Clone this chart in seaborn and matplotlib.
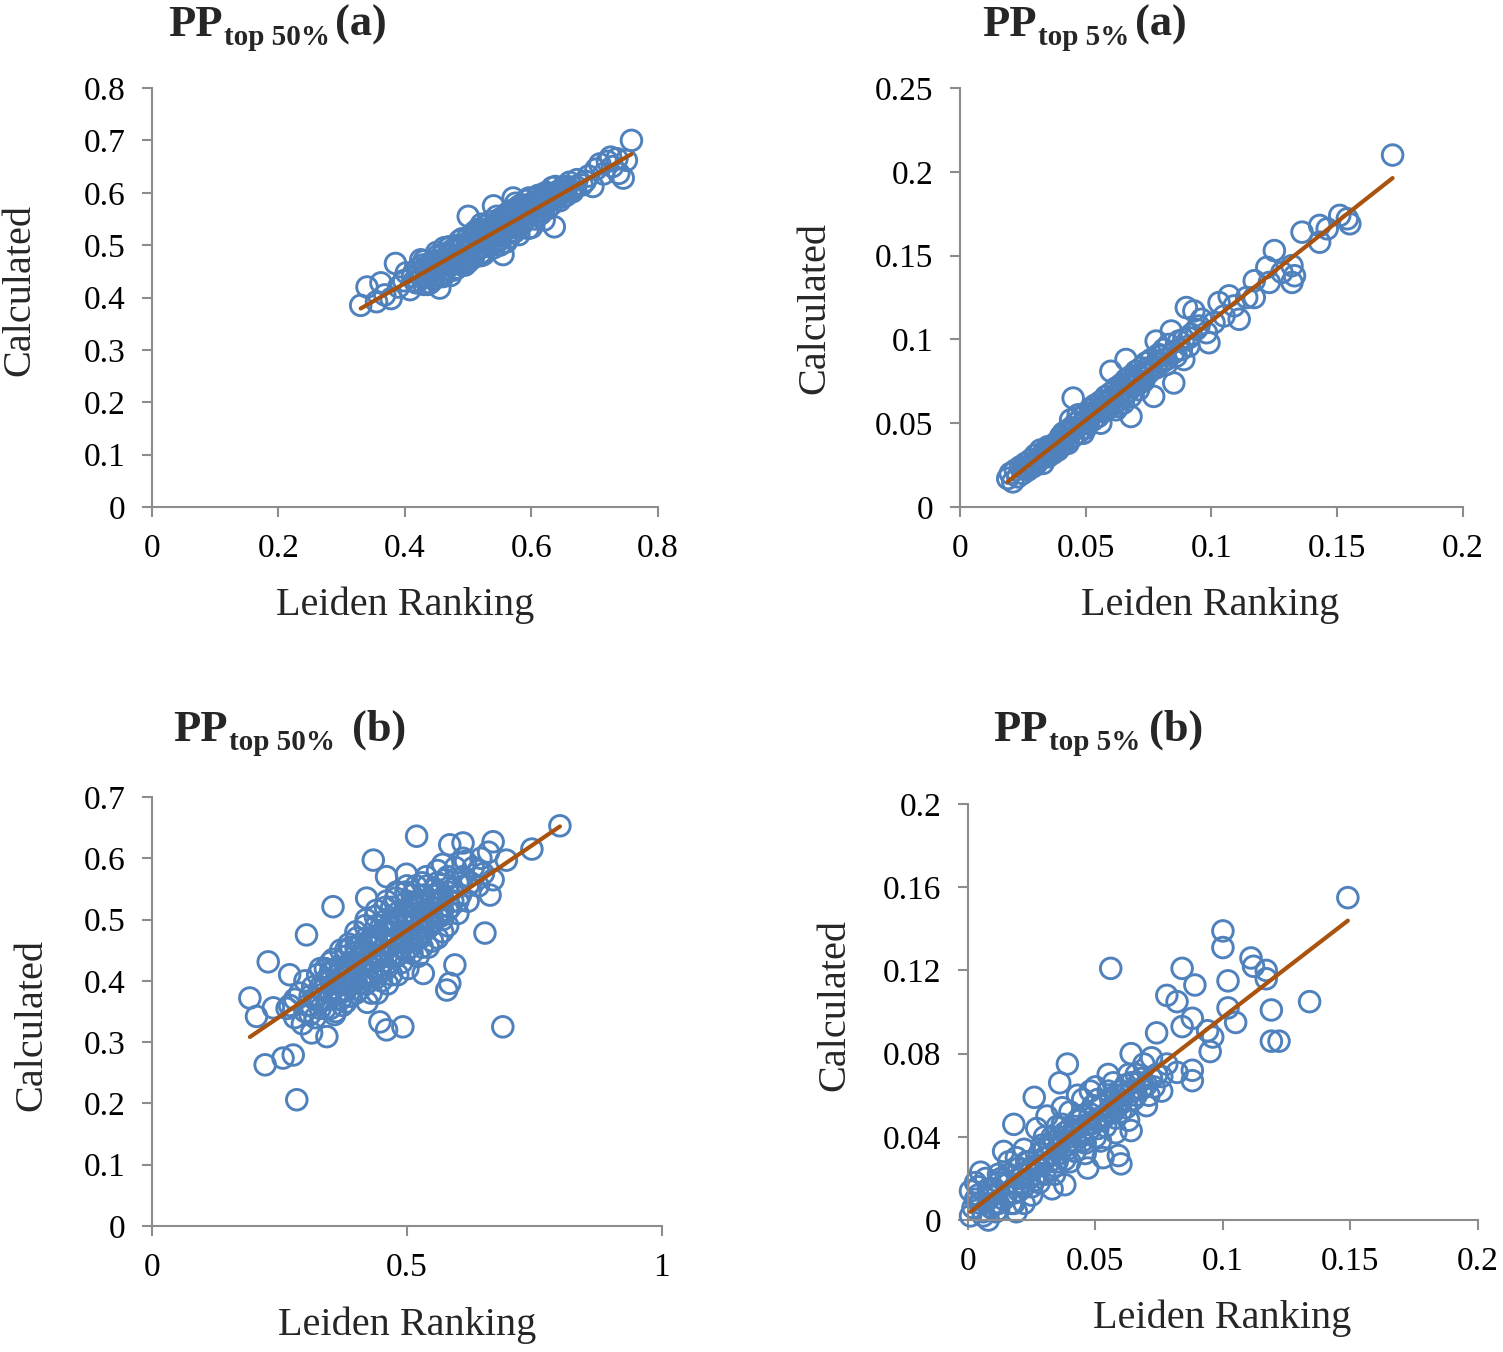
import matplotlib
matplotlib.use("Agg")
import matplotlib.pyplot as plt
import seaborn as sns
from matplotlib.ticker import FuncFormatter

# PP top 50% (a)
a50_x = [0.330, 0.340, 0.355, 0.362, 0.368, 0.378, 0.385, 0.390, 0.398, 0.402,
         0.408, 0.412, 0.418, 0.420, 0.425, 0.428, 0.432, 0.436, 0.440, 0.442,
         0.446, 0.450, 0.452, 0.455, 0.457, 0.460, 0.462, 0.466, 0.470, 0.472,
         0.476, 0.480, 0.482, 0.486, 0.489, 0.492, 0.495, 0.498, 0.500, 0.504,
         0.508, 0.510, 0.514, 0.518, 0.521, 0.524, 0.528, 0.531, 0.535, 0.538,
         0.540, 0.544, 0.548, 0.551, 0.555, 0.558, 0.561, 0.565, 0.568, 0.571,
         0.574, 0.578, 0.581, 0.585, 0.588, 0.591, 0.595, 0.598, 0.601, 0.605,
         0.608, 0.611, 0.615, 0.619, 0.622, 0.626, 0.630, 0.633, 0.636, 0.640,
         0.645, 0.650, 0.655, 0.660, 0.665, 0.672, 0.680, 0.690, 0.697, 0.702,
         0.708, 0.714, 0.720, 0.728, 0.735, 0.738, 0.745, 0.750, 0.758, 0.725,
         0.445, 0.465, 0.485, 0.505, 0.525, 0.545, 0.565, 0.585, 0.605, 0.625,
         0.455, 0.475, 0.495, 0.515, 0.535, 0.555, 0.575, 0.595, 0.615, 0.635,
         0.430, 0.470, 0.500, 0.520, 0.550, 0.570, 0.590, 0.610, 0.650, 0.670,
         0.415, 0.438, 0.478, 0.512, 0.532, 0.562, 0.582, 0.620, 0.645, 0.685,
         0.422, 0.428, 0.434, 0.440, 0.448, 0.454, 0.460, 0.468, 0.474, 0.480,
         0.488, 0.494, 0.500, 0.506, 0.512, 0.518, 0.524, 0.530, 0.536, 0.542,
         0.548, 0.554, 0.560, 0.566, 0.572, 0.578, 0.584, 0.590, 0.596, 0.602,
         0.608, 0.614, 0.620, 0.626, 0.632, 0.638, 0.644, 0.650, 0.656, 0.662,
         0.485, 0.515, 0.545, 0.575, 0.490, 0.520, 0.550, 0.580, 0.470, 0.540,
         0.430, 0.450, 0.470, 0.490, 0.510, 0.530, 0.550, 0.570, 0.590, 0.610,
         0.440, 0.460, 0.480, 0.500, 0.520, 0.540, 0.560, 0.580, 0.600, 0.620]
a50_y = [0.385, 0.420, 0.392, 0.428, 0.405, 0.398, 0.465, 0.420, 0.432, 0.447,
         0.415, 0.440, 0.428, 0.455, 0.472, 0.440, 0.458, 0.425, 0.448, 0.468,
         0.435, 0.458, 0.480, 0.418, 0.444, 0.470, 0.495, 0.455, 0.480, 0.442,
         0.465, 0.490, 0.456, 0.508, 0.475, 0.500, 0.462, 0.486, 0.555, 0.510,
         0.476, 0.525, 0.495, 0.510, 0.540, 0.482, 0.520, 0.500, 0.545, 0.530,
         0.575, 0.505, 0.526, 0.545, 0.482, 0.535, 0.560, 0.515, 0.548, 0.590,
         0.526, 0.560, 0.575, 0.540, 0.556, 0.585, 0.532, 0.566, 0.580, 0.550,
         0.575, 0.595, 0.560, 0.585, 0.600, 0.570, 0.590, 0.610, 0.535, 0.600,
         0.585, 0.610, 0.595, 0.620, 0.602, 0.625, 0.615, 0.632, 0.612, 0.645,
         0.655, 0.636, 0.660, 0.650, 0.665, 0.637, 0.628, 0.662, 0.700, 0.668,
         0.452, 0.468, 0.482, 0.492, 0.505, 0.518, 0.532, 0.555, 0.565, 0.582,
         0.468, 0.452, 0.478, 0.512, 0.515, 0.548, 0.542, 0.572, 0.578, 0.598,
         0.425, 0.495, 0.500, 0.495, 0.510, 0.560, 0.548, 0.560, 0.592, 0.612,
         0.432, 0.462, 0.475, 0.488, 0.532, 0.522, 0.548, 0.572, 0.605, 0.622,
         0.445, 0.462, 0.438, 0.455, 0.470, 0.440, 0.482, 0.462, 0.490, 0.472,
         0.492, 0.470, 0.515, 0.498, 0.520, 0.495, 0.525, 0.512, 0.500, 0.540,
         0.540, 0.525, 0.548, 0.565, 0.540, 0.572, 0.562, 0.568, 0.590, 0.572,
         0.562, 0.588, 0.592, 0.600, 0.578, 0.612, 0.595, 0.602, 0.612, 0.605,
         0.500, 0.530, 0.555, 0.580, 0.462, 0.485, 0.500, 0.535, 0.470, 0.520,
         0.470, 0.486, 0.497, 0.512, 0.522, 0.538, 0.550, 0.566, 0.576, 0.592,
         0.428, 0.440, 0.455, 0.468, 0.480, 0.495, 0.506, 0.520, 0.534, 0.548]

# PP top 5% (a)
a5_x = [0.019, 0.020, 0.021, 0.022, 0.023, 0.024, 0.025, 0.026, 0.027, 0.028,
        0.029, 0.030, 0.031, 0.032, 0.033, 0.034, 0.035, 0.036, 0.037, 0.038,
        0.039, 0.040, 0.041, 0.042, 0.043, 0.044, 0.045, 0.045, 0.046, 0.047,
        0.048, 0.049, 0.050, 0.051, 0.052, 0.053, 0.054, 0.055, 0.056, 0.057,
        0.058, 0.059, 0.060, 0.060, 0.061, 0.062, 0.063, 0.064, 0.065, 0.066,
        0.066, 0.067, 0.068, 0.068, 0.069, 0.070, 0.071, 0.072, 0.073, 0.074,
        0.075, 0.076, 0.077, 0.078, 0.078, 0.079, 0.080, 0.081, 0.082, 0.083,
        0.084, 0.085, 0.085, 0.087, 0.089, 0.090, 0.091, 0.093, 0.094, 0.096,
        0.098, 0.099, 0.101, 0.103, 0.105, 0.107, 0.109, 0.111, 0.114, 0.117,
        0.117, 0.122, 0.123, 0.125, 0.128, 0.132, 0.133, 0.132, 0.136, 0.143,
        0.143, 0.146, 0.151, 0.154, 0.155, 0.172, 0.030, 0.035, 0.040, 0.045,
        0.050, 0.055, 0.060, 0.065, 0.070, 0.075, 0.080, 0.026, 0.033, 0.038,
        0.043, 0.048, 0.053, 0.058, 0.063, 0.068, 0.073, 0.088, 0.092, 0.095,
        0.025, 0.028, 0.031, 0.034, 0.037, 0.040, 0.043, 0.046, 0.049, 0.052,
        0.055, 0.058, 0.061, 0.064, 0.067, 0.070, 0.073, 0.076, 0.079, 0.082,
        0.044, 0.047, 0.050, 0.053, 0.056, 0.059, 0.062, 0.065, 0.068, 0.071,
        0.032, 0.036, 0.041, 0.049, 0.057, 0.063, 0.069, 0.086, 0.089, 0.091]
a5_y = [0.017, 0.020, 0.015, 0.022, 0.018, 0.024, 0.020, 0.026, 0.022, 0.028,
        0.024, 0.031, 0.027, 0.030, 0.026, 0.034, 0.030, 0.036, 0.032, 0.038,
        0.034, 0.042, 0.037, 0.045, 0.040, 0.047, 0.042, 0.065, 0.050, 0.044,
        0.053, 0.047, 0.056, 0.050, 0.058, 0.052, 0.061, 0.054, 0.063, 0.057,
        0.066, 0.059, 0.081, 0.068, 0.061, 0.071, 0.064, 0.073, 0.066, 0.076,
        0.088, 0.069, 0.054, 0.078, 0.072, 0.081, 0.074, 0.083, 0.077, 0.086,
        0.080, 0.088, 0.066, 0.083, 0.099, 0.091, 0.086, 0.094, 0.088, 0.097,
        0.105, 0.074, 0.092, 0.099, 0.088, 0.119, 0.101, 0.117, 0.106, 0.112,
        0.104, 0.098, 0.110, 0.122, 0.114, 0.126, 0.120, 0.112, 0.125, 0.125,
        0.135, 0.143, 0.134, 0.153, 0.140, 0.144, 0.138, 0.134, 0.164, 0.158,
        0.168, 0.166, 0.174, 0.172, 0.169, 0.210, 0.025, 0.036, 0.038, 0.046,
        0.052, 0.059, 0.063, 0.070, 0.075, 0.083, 0.090, 0.023, 0.032, 0.035,
        0.044, 0.049, 0.056, 0.062, 0.068, 0.072, 0.080, 0.094, 0.103, 0.108,
        0.023, 0.025, 0.029, 0.031, 0.036, 0.039, 0.038, 0.047, 0.050, 0.054,
        0.057, 0.058, 0.066, 0.068, 0.073, 0.076, 0.075, 0.082, 0.087, 0.085,
        0.052, 0.055, 0.047, 0.060, 0.050, 0.064, 0.058, 0.062, 0.066, 0.070,
        0.034, 0.033, 0.044, 0.044, 0.060, 0.060, 0.077, 0.090, 0.100, 0.096]

# PP top 50% (b)
b50_x = [0.192, 0.205, 0.222, 0.228, 0.238, 0.257, 0.270, 0.277, 0.284, 0.303,
         0.313, 0.343, 0.355, 0.421, 0.434, 0.447, 0.460, 0.460, 0.492, 0.499,
         0.519, 0.532, 0.578, 0.584, 0.584, 0.594, 0.610, 0.653, 0.663, 0.669,
         0.669, 0.688, 0.695, 0.745, 0.800, 0.265, 0.280, 0.290, 0.295, 0.300,
         0.305, 0.310, 0.315, 0.320, 0.325, 0.330, 0.335, 0.340, 0.345, 0.350,
         0.355, 0.358, 0.362, 0.366, 0.370, 0.374, 0.378, 0.382, 0.386, 0.390,
         0.394, 0.398, 0.402, 0.406, 0.410, 0.414, 0.418, 0.422, 0.426, 0.430,
         0.434, 0.438, 0.442, 0.446, 0.450, 0.454, 0.458, 0.462, 0.466, 0.470,
         0.474, 0.478, 0.482, 0.486, 0.490, 0.494, 0.498, 0.502, 0.506, 0.510,
         0.514, 0.518, 0.522, 0.526, 0.530, 0.534, 0.538, 0.542, 0.546, 0.550,
         0.555, 0.560, 0.565, 0.570, 0.575, 0.580, 0.585, 0.590, 0.595, 0.600,
         0.605, 0.610, 0.615, 0.620, 0.625, 0.630, 0.640, 0.645, 0.650, 0.660,
         0.320, 0.340, 0.360, 0.380, 0.400, 0.420, 0.440, 0.460, 0.480, 0.500,
         0.520, 0.540, 0.560, 0.580, 0.400, 0.420, 0.440, 0.460, 0.480, 0.500,
         0.370, 0.390, 0.410, 0.430, 0.450, 0.470, 0.490, 0.510, 0.530, 0.550,
         0.350, 0.380, 0.430, 0.450, 0.470, 0.490, 0.510, 0.530, 0.560, 0.600,
         0.330, 0.350, 0.370, 0.390, 0.410, 0.430, 0.450, 0.470, 0.490, 0.510,
         0.530, 0.550, 0.570, 0.590, 0.360, 0.380, 0.400, 0.420, 0.440, 0.460,
         0.480, 0.500, 0.520, 0.540, 0.560, 0.580, 0.340, 0.360, 0.380, 0.400,
         0.420, 0.440, 0.460, 0.480, 0.500, 0.520, 0.540, 0.560, 0.580, 0.620,
         0.310, 0.330, 0.350, 0.390, 0.410, 0.430, 0.450, 0.470, 0.490, 0.510,
         0.530, 0.550, 0.570, 0.600, 0.640, 0.570, 0.610, 0.300, 0.280, 0.270,
         0.360, 0.380, 0.400, 0.420, 0.440, 0.460, 0.480, 0.500, 0.520, 0.540,
         0.370, 0.390, 0.410, 0.430, 0.450, 0.470, 0.490, 0.510, 0.530, 0.550,
         0.330, 0.350, 0.440, 0.460, 0.480, 0.500, 0.520, 0.540, 0.560, 0.570]
b50_y = [0.372, 0.342, 0.263, 0.431, 0.356, 0.274, 0.410, 0.279, 0.206, 0.475,
         0.315, 0.309, 0.521, 0.535, 0.597, 0.333, 0.320, 0.570, 0.325, 0.574,
         0.636, 0.412, 0.385, 0.396, 0.622, 0.426, 0.625, 0.478, 0.540, 0.627,
         0.565, 0.325, 0.597, 0.615, 0.653, 0.355, 0.340, 0.380, 0.330, 0.400,
         0.360, 0.345, 0.390, 0.370, 0.410, 0.355, 0.385, 0.420, 0.370, 0.400,
         0.435, 0.345, 0.380, 0.410, 0.450, 0.360, 0.395, 0.425, 0.460, 0.375,
         0.405, 0.440, 0.470, 0.385, 0.420, 0.450, 0.490, 0.365, 0.400, 0.435,
         0.465, 0.505, 0.380, 0.415, 0.450, 0.480, 0.520, 0.395, 0.430, 0.460,
         0.495, 0.535, 0.410, 0.445, 0.475, 0.510, 0.545, 0.420, 0.455, 0.490,
         0.520, 0.555, 0.440, 0.470, 0.505, 0.540, 0.570, 0.455, 0.490, 0.520,
         0.550, 0.470, 0.505, 0.535, 0.565, 0.490, 0.520, 0.550, 0.585, 0.510,
         0.540, 0.570, 0.595, 0.530, 0.560, 0.585, 0.555, 0.600, 0.575, 0.610,
         0.340, 0.355, 0.395, 0.440, 0.410, 0.430, 0.440, 0.460, 0.470, 0.480,
         0.500, 0.515, 0.530, 0.545, 0.455, 0.470, 0.490, 0.500, 0.510, 0.530,
         0.420, 0.430, 0.395, 0.410, 0.425, 0.440, 0.455, 0.465, 0.480, 0.495,
         0.380, 0.410, 0.455, 0.470, 0.520, 0.495, 0.510, 0.525, 0.560, 0.560,
         0.390, 0.415, 0.370, 0.455, 0.440, 0.380, 0.490, 0.480, 0.430, 0.445,
         0.455, 0.465, 0.500, 0.530, 0.350, 0.365, 0.380, 0.395, 0.405, 0.420,
         0.440, 0.450, 0.470, 0.485, 0.505, 0.515, 0.400, 0.420, 0.450, 0.480,
         0.500, 0.515, 0.530, 0.545, 0.555, 0.530, 0.555, 0.580, 0.570, 0.555,
         0.375, 0.365, 0.355, 0.395, 0.460, 0.470, 0.400, 0.410, 0.500, 0.540,
         0.560, 0.530, 0.480, 0.530, 0.580, 0.590, 0.600, 0.350, 0.370, 0.360,
         0.400, 0.385, 0.430, 0.410, 0.465, 0.440, 0.495, 0.465, 0.520, 0.500,
         0.380, 0.415, 0.405, 0.445, 0.440, 0.490, 0.470, 0.525, 0.495, 0.540,
         0.420, 0.430, 0.470, 0.480, 0.490, 0.510, 0.485, 0.505, 0.540, 0.515]

# PP top 5% (b)
b5_x = [0.149, 0.100, 0.100, 0.056, 0.084, 0.089, 0.102, 0.111, 0.112, 0.117,
        0.117, 0.134, 0.119, 0.119, 0.122, 0.102, 0.105, 0.078, 0.082, 0.088,
        0.084, 0.074, 0.094, 0.096, 0.095, 0.088, 0.088, 0.039, 0.026, 0.018,
        0.036, 0.064, 0.060, 0.059, 0.038, 0.022, 0.001, 0.001, 0.005, 0.014,
        0.064, 0.069, 0.076, 0.078, 0.082, 0.072, 0.066, 0.062, 0.058, 0.055,
        0.002, 0.004, 0.006, 0.008, 0.010, 0.012, 0.014, 0.016, 0.018, 0.020,
        0.022, 0.024, 0.026, 0.028, 0.030, 0.032, 0.034, 0.036, 0.038, 0.040,
        0.042, 0.044, 0.046, 0.048, 0.050, 0.052, 0.054, 0.056, 0.058, 0.060,
        0.062, 0.064, 0.066, 0.068, 0.070, 0.072, 0.074, 0.010, 0.015, 0.020,
        0.025, 0.030, 0.035, 0.040, 0.045, 0.050, 0.055, 0.060, 0.005, 0.012,
        0.018, 0.025, 0.030, 0.035, 0.040, 0.045, 0.050, 0.028, 0.034, 0.040,
        0.046, 0.052, 0.058, 0.016, 0.022, 0.027, 0.031, 0.037, 0.043, 0.048,
        0.008, 0.003, 0.007, 0.019, 0.033, 0.047, 0.053, 0.063, 0.070, 0.076,
        0.003, 0.006, 0.009, 0.011, 0.013, 0.017, 0.019, 0.021, 0.023, 0.025,
        0.027, 0.029, 0.031, 0.033, 0.035, 0.037, 0.039, 0.041, 0.043, 0.045,
        0.047, 0.049, 0.051, 0.053, 0.055, 0.057, 0.059, 0.061, 0.065, 0.067,
        0.009, 0.015, 0.021, 0.027, 0.033, 0.039, 0.045, 0.051, 0.057, 0.063,
        0.012, 0.024, 0.036, 0.042, 0.048, 0.054, 0.060, 0.068, 0.071, 0.073,
        0.004, 0.008, 0.012, 0.016, 0.020, 0.024, 0.028, 0.032, 0.036, 0.040,
        0.044, 0.048, 0.052, 0.056, 0.060, 0.064, 0.030, 0.034, 0.038, 0.042]
b5_y = [0.155, 0.139, 0.131, 0.121, 0.121, 0.113, 0.115, 0.126, 0.122, 0.120,
        0.116, 0.105, 0.101, 0.086, 0.086, 0.102, 0.095, 0.108, 0.105, 0.097,
        0.093, 0.090, 0.091, 0.088, 0.081, 0.072, 0.067, 0.075, 0.059, 0.046,
        0.066, 0.043, 0.027, 0.031, 0.017, 0.008, 0.002, 0.014, 0.023, 0.033,
        0.080, 0.075, 0.069, 0.075, 0.071, 0.078, 0.070, 0.065, 0.060, 0.070,
        0.006, 0.012, 0.004, 0.015, 0.008, 0.018, 0.010, 0.022, 0.013, 0.025,
        0.016, 0.028, 0.019, 0.032, 0.022, 0.036, 0.026, 0.040, 0.029, 0.044,
        0.033, 0.048, 0.037, 0.051, 0.040, 0.055, 0.045, 0.058, 0.049, 0.062,
        0.054, 0.066, 0.060, 0.063, 0.065, 0.068, 0.070, 0.015, 0.017, 0.020,
        0.024, 0.030, 0.034, 0.038, 0.043, 0.048, 0.052, 0.056, 0.008, 0.005,
        0.008, 0.012, 0.040, 0.045, 0.052, 0.058, 0.064, 0.018, 0.022, 0.028,
        0.032, 0.038, 0.042, 0.028, 0.034, 0.044, 0.050, 0.054, 0.060, 0.062,
        0.000, 0.018, 0.020, 0.004, 0.015, 0.025, 0.030, 0.048, 0.055, 0.062,
        0.010, 0.002, 0.012, 0.004, 0.020, 0.008, 0.030, 0.018, 0.028, 0.016,
        0.026, 0.036, 0.030, 0.040, 0.028, 0.046, 0.036, 0.042, 0.048, 0.038,
        0.046, 0.055, 0.044, 0.050, 0.062, 0.052, 0.057, 0.060, 0.058, 0.066,
        0.006, 0.012, 0.022, 0.022, 0.032, 0.034, 0.050, 0.058, 0.066, 0.070,
        0.022, 0.020, 0.032, 0.038, 0.044, 0.050, 0.052, 0.068, 0.060, 0.064,
        0.016, 0.010, 0.008, 0.018, 0.014, 0.024, 0.026, 0.028, 0.036, 0.040,
        0.040, 0.046, 0.048, 0.054, 0.060, 0.062, 0.034, 0.038, 0.042, 0.045]

BLUE = "#4F81BD"
BROWN = "#A9530F"
AXIS_GREY = "#8C8C8C"
W, H = 1503, 1352

sns.set_theme(style="ticks")
plt.rcParams["font.family"] = ["Liberation Serif", "DejaVu Serif"]

panels = [
    dict(x=a50_x, y=a50_y, rect=[0.1011, 0.625, 0.3367, 0.3099],
         xticks=[0, 0.2, 0.4, 0.6, 0.8], yticks=[0, 0.1, 0.2, 0.3, 0.4, 0.5, 0.6, 0.7, 0.8],
         sub="top 50%", tag="(a)", gap=4, title_px=(168, 45), ylab_px=(20, 290), xlab_px=(405, 605)),
    dict(x=a5_x, y=a5_y, rect=[0.6387, 0.625, 0.3347, 0.3099],
         xticks=[0, 0.05, 0.1, 0.15, 0.2], yticks=[0, 0.05, 0.1, 0.15, 0.2, 0.25],
         sub="top 5%", tag="(a)", gap=4, title_px=(982, 45), ylab_px=(815, 308), xlab_px=(1210, 605)),
    dict(x=b50_x, y=b50_y, rect=[0.1011, 0.0932, 0.3393, 0.3173],
         xticks=[0, 0.5, 1], yticks=[0, 0.1, 0.2, 0.3, 0.4, 0.5, 0.6, 0.7],
         sub="top 50%", tag="(b)", gap=12, title_px=(173, 750), ylab_px=(32, 1025), xlab_px=(407, 1325)),
    dict(x=b5_x, y=b5_y, rect=[0.644, 0.0976, 0.3393, 0.3077],
         xticks=[0, 0.05, 0.1, 0.15, 0.2], yticks=[0, 0.04, 0.08, 0.12, 0.16, 0.2],
         sub="top 5%", tag="(b)", gap=6, title_px=(993, 750), ylab_px=(835, 1005), xlab_px=(1222, 1318)),
]

fig = plt.figure(figsize=(W / 100, H / 100), dpi=100)
fmt = FuncFormatter(lambda v, _: f"{v:g}")

for p in panels:
    ax = fig.add_axes(p["rect"])
    sns.regplot(x=p["x"], y=p["y"], ax=ax, ci=None, truncate=True,
                scatter_kws=dict(s=220, facecolors="none", edgecolors=BLUE,
                                 linewidths=2.1, alpha=1, clip_on=False, zorder=2),
                line_kws=dict(color=BROWN, lw=3, zorder=3))
    ax.set_xlim(p["xticks"][0], p["xticks"][-1])
    ax.set_ylim(p["yticks"][0], p["yticks"][-1])
    ax.set_xticks(p["xticks"])
    ax.set_yticks(p["yticks"])
    ax.xaxis.set_major_formatter(fmt)
    ax.yaxis.set_major_formatter(fmt)
    sns.despine(ax=ax)
    for side in ["left", "bottom"]:
        ax.spines[side].set_color(AXIS_GREY)
        ax.spines[side].set_linewidth(1.5)
    ax.tick_params(colors=AXIS_GREY, labelcolor="black", length=7, width=1.5,
                   labelsize=24, pad=12)

    # axis labels
    fig.text(p["ylab_px"][0] / W, 1 - p["ylab_px"][1] / H, "Calculated",
             rotation=90, ha="center", va="center", fontsize=29)
    fig.text(p["xlab_px"][0] / W, 1 - p["xlab_px"][1] / H, "Leiden Ranking",
             ha="center", va="center", fontsize=29)

    # title: PP with subscript, then panel tag
    t1 = ax.annotate("PP", xy=(p["title_px"][0] / W, 1 - p["title_px"][1] / H),
                     xycoords="figure fraction", ha="left", va="bottom",
                     fontsize=32, fontweight="bold", annotation_clip=False)
    t2 = ax.annotate(p["sub"], xy=(1, 0), xycoords=t1, xytext=(1, 0),
                     textcoords="offset points", ha="left", va="baseline",
                     fontsize=21, fontweight="bold", annotation_clip=False)
    ax.annotate(p["tag"], xy=(1, 0), xycoords=(t2, t1), xytext=(p["gap"], 0),
                textcoords="offset points", ha="left", va="bottom",
                fontsize=32, fontweight="bold", annotation_clip=False)

fig.savefig("out.png", dpi=100)
